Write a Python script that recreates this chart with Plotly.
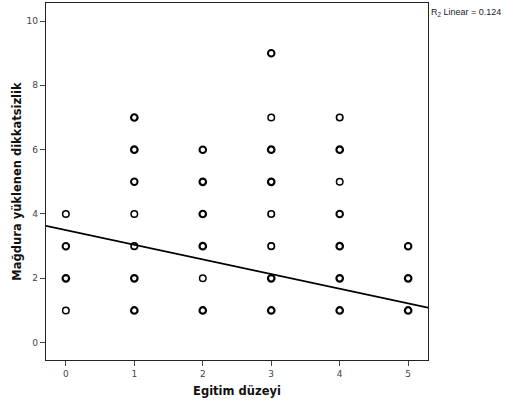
import plotly.graph_objects as go

x_vals = [0, 0, 0, 0,
          1, 1, 1, 1, 1, 1, 1,
          2, 2, 2, 2, 2, 2,
          3, 3, 3, 3, 3, 3, 3, 3,
          4, 4, 4, 4, 4, 4, 4,
          5, 5, 5]
y_vals = [1, 2, 3, 4,
          1, 2, 3, 4, 5, 6, 7,
          1, 2, 3, 4, 5, 6,
          1, 2, 3, 4, 5, 6, 7, 9,
          1, 2, 3, 4, 5, 6, 7,
          1, 2, 3]
# marker outline weight (heavier = overlapping cases)
weights = [1.5, 2.2, 2.0, 1.5,
           2.2, 2.2, 1.6, 1.5, 2.0, 2.2, 2.2,
           2.2, 1.5, 2.2, 2.2, 2.2, 2.0,
           2.2, 2.2, 1.6, 1.6, 2.2, 2.2, 1.5, 2.0,
           2.2, 2.2, 2.2, 2.0, 1.5, 2.2, 1.6,
           2.2, 2.2, 2.0]

fit_intercept = 3.50
fit_slope = -0.456
x_range = [-0.29, 5.29]
y_range = [-0.54, 10.56]
x_ticks = [0, 1, 2, 3, 4, 5]
y_ticks = [0, 2, 4, 6, 8, 10]

fig = go.Figure()
fig.add_trace(go.Scatter(
    x=x_vals, y=y_vals, mode="markers",
    marker=dict(symbol="circle-open", size=6.5, color="black",
                line=dict(width=weights, color="black")),
    showlegend=False, cliponaxis=False))
fig.add_trace(go.Scatter(
    x=x_range, y=[fit_intercept + fit_slope * v for v in x_range],
    mode="lines", line=dict(color="black", width=1.6), showlegend=False))

axis_common = dict(showgrid=False, zeroline=False, showline=True, linecolor="#222",
                   linewidth=1.3, mirror=True, ticks="outside", ticklen=5,
                   tickcolor="#444", automargin=False,
                   tickfont=dict(size=9, color="#444", family="DejaVu Sans"))
fig.update_xaxes(range=x_range, tickvals=x_ticks, **axis_common,
                 title=dict(text="<b>Egitim düzeyi</b>",
                            font=dict(size=11.5, color="#111", family="DejaVu Sans"),
                            standoff=8))
fig.update_yaxes(range=y_range, tickvals=y_ticks, **axis_common,
                 title=dict(text="<b>Mağdura yüklenen dikkatsizlik</b>",
                            font=dict(size=11.5, color="#111", family="DejaVu Sans"),
                            standoff=2))
fig.add_annotation(x=1, y=1, xref="paper", yref="paper", xanchor="left", yanchor="top",
                   xshift=1, yshift=-2, showarrow=False,
                   text="R<sub>2</sub> Linear = 0.124",
                   font=dict(size=9, color="#222", family="Liberation Sans"))
fig.update_layout(width=506, height=405, margin=dict(l=46, r=78, t=3, b=45),
                  plot_bgcolor="white", paper_bgcolor="white")
fig.write_html("out.html", config={"displayModeBar": False},
               post_script="document.body.style.margin='0';document.body.style.padding='0';")
